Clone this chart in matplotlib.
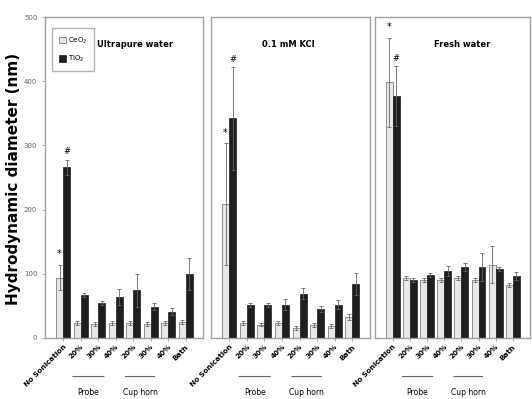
import matplotlib.pyplot as plt
import numpy as np

groups = ['No Sonication', '20%', '30%', '40%', '20%', '30%', '40%', 'Bath']
panels = ['Ultrapure water', '0.1 mM KCl', 'Fresh water']

# CeO2 (white) and TiO2 (black) means and error bars per panel
ceo2 = [
    [94, 23, 22, 24, 23, 22, 23, 25],
    [208, 23, 21, 23, 16, 20, 19, 33],
    [398, 93, 90, 91, 93, 90, 114, 83],
]
ceo2_err = [
    [20, 3, 3, 3, 3, 3, 3, 3],
    [95, 3, 3, 3, 3, 3, 3, 5],
    [70, 3, 3, 3, 3, 3, 29, 3],
]
tio2 = [
    [266, 67, 55, 64, 74, 49, 41, 100],
    [342, 52, 52, 52, 69, 45, 52, 84],
    [377, 90, 98, 104, 111, 111, 107, 97],
]
tio2_err = [
    [12, 3, 3, 12, 25, 5, 5, 25],
    [80, 3, 3, 8, 9, 5, 7, 17],
    [47, 3, 3, 8, 6, 22, 3, 6],
]

fig = plt.figure(figsize=(5.32, 3.99), dpi=100)
lefts = [45, 211, 375]
widths = [158, 159, 155]
x = np.arange(len(groups))
w = 0.4

for k in range(3):
    ax = fig.add_axes([lefts[k] / 532, 1 - 338 / 399, widths[k] / 532, 321 / 399])
    ax.bar(x - w / 2, ceo2[k], w, yerr=ceo2_err[k], color='#e8e8e8',
           edgecolor='#666666', linewidth=0.5, label='CeO$_2$',
           error_kw=dict(elinewidth=0.6, capsize=1.2, ecolor='#666666', capthick=0.6))
    ax.bar(x + w / 2, tio2[k], w, yerr=tio2_err[k], color='#1e1e1e',
           edgecolor='#1e1e1e', linewidth=0.5, label='TiO$_2$',
           error_kw=dict(elinewidth=0.6, capsize=1.2, ecolor='#666666', capthick=0.6))
    ax.set_ylim(0, 500)
    ax.set_xlim(-1.03, 8.0)
    ax.set_xticks(x)
    ax.set_xticklabels(groups, rotation=45, ha='right', rotation_mode='anchor',
                       fontsize=5.2, fontweight='bold')
    ax.tick_params(axis='x', length=2, width=0.5, color='#888888', pad=2)
    for s in ax.spines.values():
        s.set_color('#a0a0a0')
        s.set_linewidth(1.0)
    if k == 0:
        ax.set_yticks([0, 100, 200, 300, 400, 500])
        ax.tick_params(axis='y', labelsize=5, length=2, width=0.5, color='#888888',
                       labelcolor='#666666')
        ax.set_ylabel('Hydrodynamic diameter (nm)', fontsize=11, fontweight='bold')
        ax.yaxis.set_label_coords(-0.155, 0.495)
        ax.legend(loc='upper left', prop={'size': 5},
                  handlelength=1.0, handleheight=1.1, handletextpad=0.3,
                  borderpad=1.0, labelspacing=1.2, frameon=True, fancybox=False,
                  edgecolor='#a0a0a0', bbox_to_anchor=(0.02, 0.975))
    else:
        ax.set_yticks([])
    # panel titles
    title_x = [0.33, 0.485, 0.56][k]
    title_ha = ['left', 'center', 'center'][k]
    ax.text(title_x, 0.915, panels[k], transform=ax.transAxes, ha=title_ha,
            va='center', fontsize=6, fontweight='bold')
    # significance marks on No Sonication bars
    ax.text(-w / 2, ceo2[k][0] + ceo2_err[k][0] + 12, '*', ha='center', fontsize=7)
    ax.text(w / 2, tio2[k][0] + tio2_err[k][0] + 8, '#', ha='center', fontsize=6)
    # group brackets under the rotated labels
    for a, b, name in [(0.4, 2.5, 'Probe'), (3.4, 5.4, 'Cup horn')]:
        ax.annotate('', xy=(a, -0.12), xytext=(b, -0.12),
                    xycoords=('data', 'axes fraction'),
                    textcoords=('data', 'axes fraction'),
                    arrowprops=dict(arrowstyle='-', color='#666666', lw=0.8))
        ax.text((a + b) / 2, -0.17, name, transform=ax.get_xaxis_transform(),
                ha='center', va='center', fontsize=5.5)

fig.savefig('out.png', dpi=100)
